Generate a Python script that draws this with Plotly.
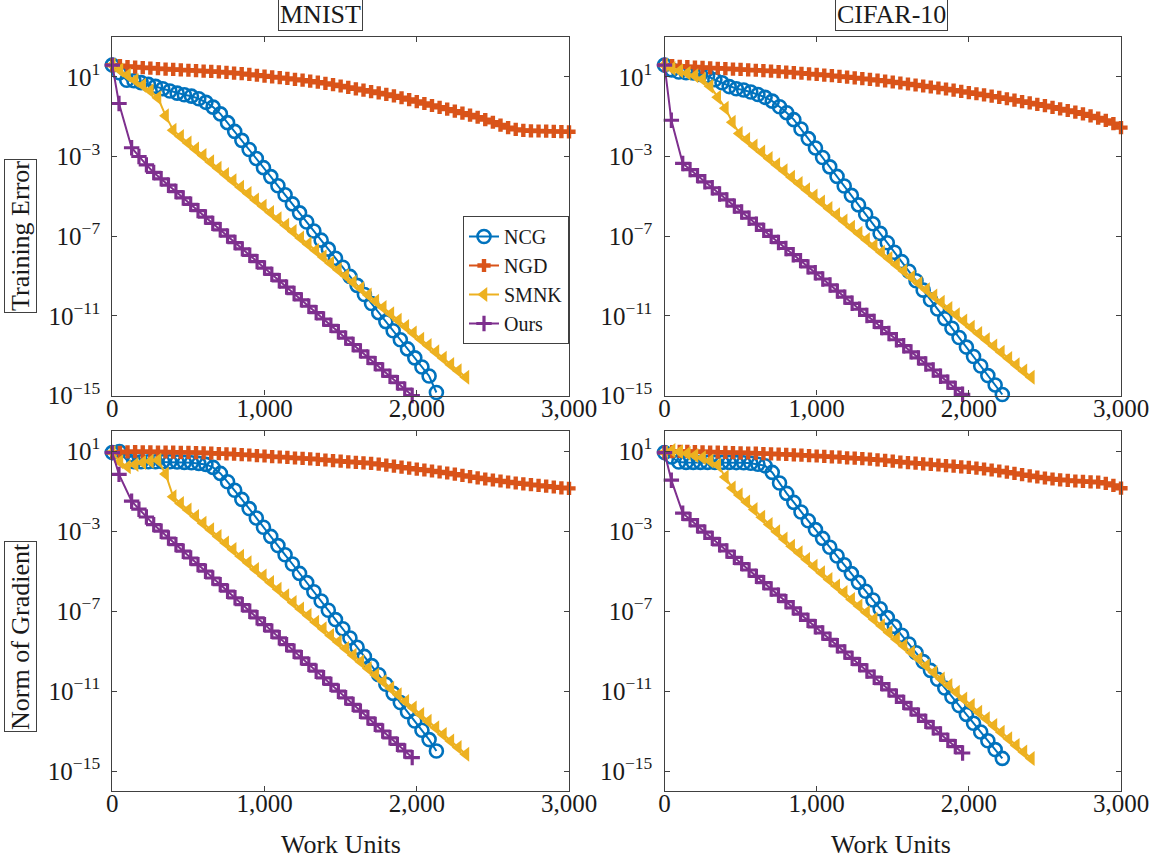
import plotly.graph_objects as go

# ---------------- data (exponents of 10) ----------------
NGD_X = [0, 50, 100, 150, 200, 250, 300, 350, 400, 450, 500, 550, 600, 650, 700, 750, 800, 850, 900, 950,
         1000, 1050, 1100, 1150, 1200, 1250, 1300, 1350, 1400, 1450, 1500, 1550, 1600, 1650, 1700, 1750,
         1800, 1850, 1900, 1950, 2000, 2050, 2100, 2150, 2200, 2250, 2300, 2350, 2400, 2450, 2500, 2550,
         2600, 2650, 2700, 2750, 2800, 2850, 2900, 2950, 3000]

# MNIST
MN_NCG_X = [0, 47, 95, 142, 189, 237, 284, 331, 378, 426, 473, 520, 568, 615, 662, 710, 757, 804, 851, 899,
            946, 993, 1041, 1088, 1135, 1183, 1230, 1277, 1324, 1372, 1419, 1466, 1514, 1561, 1608, 1656,
            1703, 1750, 1797, 1845, 1892, 1939, 1987, 2034, 2081, 2129]
MN_NCG_TRAIN = [1.59, 1.2, 0.83, 0.80, 0.71, 0.62, 0.52, 0.40, 0.29, 0.18, 0.10, 0.03, -0.10, -0.28, -0.52,
                -0.86, -1.30, -1.74, -2.19, -2.65, -3.10, -3.56, -4.01, -4.47, -4.92, -5.38, -5.83, -6.29,
                -6.74, -7.20, -7.65, -8.11, -8.56, -9.02, -9.47, -9.93, -10.38, -10.84, -11.29, -11.75,
                -12.20, -12.66, -13.11, -13.57, -14.02, -14.85]
MN_NCG_GRAD = [0.92, 0.97, 0.55, 0.46, 0.46, 0.46, 0.46, 0.46, 0.46, 0.45, 0.43, 0.41, 0.38, 0.33, 0.18,
               -0.12, -0.54, -0.96, -1.42, -1.88, -2.35, -2.81, -3.27, -3.73, -4.19, -4.65, -5.12, -5.58,
               -6.04, -6.50, -6.96, -7.43, -7.89, -8.35, -8.81, -9.27, -9.73, -10.19, -10.66, -11.12,
               -11.58, -12.04, -12.50, -12.96, -13.43, -14.0]

MN_NGD_TRAIN = [1.59, 1.56, 1.52, 1.49, 1.46, 1.44, 1.41, 1.39, 1.37, 1.35, 1.33, 1.31, 1.29, 1.27, 1.25,
                1.22, 1.19, 1.16, 1.12, 1.08, 1.04, 1.0, 0.96, 0.92, 0.87, 0.83, 0.78, 0.73, 0.67, 0.61,
                0.54, 0.47, 0.40, 0.33, 0.26, 0.19, 0.12, 0.04, -0.05, -0.14, -0.24, -0.34, -0.44, -0.53,
                -0.62, -0.72, -0.82, -0.92, -1.03, -1.15, -1.28, -1.42, -1.55, -1.64, -1.69, -1.71, -1.72,
                -1.73, -1.74, -1.75, -1.76]
MN_NGD_GRAD = [0.92, 0.93, 0.96, 0.97, 0.96, 0.96, 0.95, 0.95, 0.94, 0.93, 0.93, 0.92, 0.91, 0.89, 0.87,
               0.86, 0.84, 0.82, 0.80, 0.77, 0.75, 0.72, 0.70, 0.68, 0.65, 0.63, 0.61, 0.58, 0.55, 0.52,
               0.49, 0.46, 0.43, 0.41, 0.38, 0.34, 0.29, 0.24, 0.19, 0.14, 0.09, 0.05, 0.0, -0.05, -0.10,
               -0.16, -0.22, -0.28, -0.34, -0.40, -0.45, -0.50, -0.55, -0.60, -0.64, -0.68, -0.72, -0.76,
               -0.80, -0.84, -0.87]

MN_SMNK_X = [0, 50, 100, 150, 200, 250, 300, 350, 400, 449, 499, 548, 597, 647, 696, 745, 794, 844, 893,
             942, 992, 1041, 1090, 1140, 1189, 1238, 1287, 1337, 1386, 1435, 1485, 1534, 1583, 1633, 1682,
             1731, 1780, 1830, 1879, 1928, 1978, 2027, 2076, 2126, 2175, 2224, 2273, 2323]
MN_SMNK_TRAIN = [1.59, 1.34, 1.08, 0.83, 0.58, 0.30, -0.05, -0.95, -1.68, -2.00, -2.32, -2.63, -2.95,
                 -3.27, -3.59, -3.91, -4.22, -4.54, -4.86, -5.18, -5.50, -5.81, -6.13, -6.45, -6.77, -7.09,
                 -7.40, -7.72, -8.04, -8.36, -8.68, -8.99, -9.31, -9.63, -9.95, -10.27, -10.58, -10.90,
                 -11.22, -11.54, -11.86, -12.17, -12.49, -12.81, -13.13, -13.45, -13.76, -14.08]
MN_SMNK_GRAD = [0.92, 0.46, 0.21, 0.33, 0.43, 0.49, 0.54, -0.15, -1.29, -1.62, -1.95, -2.28, -2.61, -2.94,
                -3.27, -3.60, -3.93, -4.26, -4.59, -4.92, -5.25, -5.58, -5.91, -6.24, -6.57, -6.90, -7.23,
                -7.56, -7.89, -8.22, -8.55, -8.88, -9.21, -9.54, -9.87, -10.20, -10.53, -10.86, -11.19,
                -11.52, -11.85, -12.18, -12.51, -12.84, -13.17, -13.50, -13.83, -14.16]

MN_OURS_X = [0, 44, 127, 175, 224, 272, 321, 369, 418, 466, 515, 563, 612, 660, 709, 757, 806, 854, 903,
             951, 1000, 1048, 1097, 1145, 1194, 1242, 1291, 1339, 1388, 1436, 1485, 1533, 1582, 1630, 1679,
             1727, 1776, 1824, 1873, 1921, 1970]
MN_OURS_TRAIN = [1.59, -0.34, -2.56, -3.0, -3.42, -3.80, -4.12, -4.44, -4.76, -5.08, -5.40, -5.72, -6.04,
                 -6.36, -6.68, -7.00, -7.32, -7.64, -7.96, -8.28, -8.60, -8.92, -9.24, -9.56, -9.88, -10.20,
                 -10.52, -10.84, -11.16, -11.48, -11.80, -12.12, -12.44, -12.76, -13.08, -13.40, -13.72,
                 -14.04, -14.36, -14.68, -15.0]
MN_OURS_GRAD = [0.92, -0.17, -1.51, -1.91, -2.30, -2.68, -3.01, -3.35, -3.68, -4.01, -4.35, -4.68, -5.01,
                -5.35, -5.68, -6.01, -6.34, -6.68, -7.01, -7.34, -7.68, -8.01, -8.34, -8.68, -9.01, -9.34,
                -9.67, -10.01, -10.34, -10.67, -11.01, -11.34, -11.67, -12.01, -12.34, -12.67, -13.0,
                -13.34, -13.67, -14.0, -14.33]

# CIFAR-10
CF_NCG_X = [0, 47, 94, 142, 189, 236, 283, 331, 378, 425, 472, 520, 567, 614, 661, 708, 756, 803, 850, 897,
            945, 992, 1039, 1086, 1134, 1181, 1228, 1275, 1322, 1370, 1417, 1464, 1511, 1559, 1606, 1653,
            1700, 1748, 1795, 1842, 1889, 1936, 1984, 2031, 2078, 2125, 2173, 2220]
CF_NCG_TRAIN = [1.59, 1.35, 1.24, 1.21, 1.19, 1.12, 1.04, 0.85, 0.70, 0.51, 0.40, 0.34, 0.24, 0.11, -0.03,
                -0.22, -0.50, -0.80, -1.15, -1.62, -2.10, -2.57, -3.05, -3.52, -4.00, -4.48, -4.95, -5.43,
                -5.90, -6.38, -6.86, -7.33, -7.81, -8.28, -8.76, -9.24, -9.71, -10.19, -10.66, -11.14,
                -11.62, -12.09, -12.57, -13.04, -13.52, -14.00, -14.47, -14.95]
CF_NCG_GRAD = [0.92, 0.70, 0.45, 0.43, 0.43, 0.43, 0.43, 0.43, 0.43, 0.43, 0.42, 0.41, 0.39, 0.34, 0.26,
               -0.07, -0.60, -1.12, -1.57, -2.05, -2.49, -2.93, -3.37, -3.81, -4.25, -4.69, -5.13, -5.57,
               -6.01, -6.45, -6.89, -7.33, -7.77, -8.21, -8.65, -9.09, -9.53, -9.97, -10.41, -10.85,
               -11.29, -11.73, -12.17, -12.61, -13.05, -13.49, -13.93, -14.37]

CF_NGD_TRAIN = [1.59, 1.56, 1.53, 1.51, 1.49, 1.47, 1.45, 1.43, 1.41, 1.39, 1.37, 1.35, 1.33, 1.31, 1.29,
                1.26, 1.24, 1.21, 1.18, 1.15, 1.12, 1.09, 1.06, 1.02, 0.99, 0.95, 0.91, 0.87, 0.83, 0.79,
                0.74, 0.69, 0.64, 0.59, 0.54, 0.49, 0.44, 0.39, 0.33, 0.27, 0.21, 0.15, 0.09, 0.03, -0.03,
                -0.10, -0.17, -0.24, -0.31, -0.38, -0.45, -0.53, -0.61, -0.69, -0.77, -0.86, -0.96, -1.07,
                -1.19, -1.35, -1.55]
CF_NGD_GRAD = [0.92, 0.97, 0.98, 0.98, 0.97, 0.96, 0.95, 0.94, 0.93, 0.92, 0.91, 0.90, 0.89, 0.87, 0.86,
               0.84, 0.83, 0.81, 0.79, 0.77, 0.75, 0.73, 0.71, 0.69, 0.66, 0.64, 0.62, 0.59, 0.56, 0.53,
               0.49, 0.45, 0.42, 0.39, 0.36, 0.33, 0.30, 0.27, 0.24, 0.21, 0.18, 0.14, 0.10, 0.05, 0.0,
               -0.06, -0.12, -0.18, -0.24, -0.30, -0.35, -0.40, -0.44, -0.47, -0.50, -0.52, -0.54, -0.56,
               -0.62, -0.72, -0.86]

CF_SMNK_X = [0, 50, 100, 150, 200, 250, 300, 350, 400, 446, 492, 541, 590, 640, 689, 738, 787, 836, 886,
             935, 984, 1033, 1082, 1132, 1181, 1230, 1279, 1328, 1378, 1427, 1476, 1525, 1574, 1624, 1673,
             1722, 1771, 1820, 1870, 1919, 1968, 2017, 2066, 2116, 2165, 2214, 2263, 2312, 2362, 2411]
CF_SMNK_TRAIN = [1.59, 1.42, 1.30, 1.18, 1.05, 0.88, 0.53, -0.02, -0.58, -1.28, -1.84, -2.15, -2.47,
                 -2.78, -3.10, -3.41, -3.72, -4.04, -4.35, -4.67, -4.98, -5.29, -5.61, -5.92, -6.24, -6.55,
                 -6.86, -7.18, -7.49, -7.81, -8.12, -8.43, -8.75, -9.06, -9.38, -9.69, -10.00, -10.32,
                 -10.63, -10.95, -11.26, -11.57, -11.89, -12.20, -12.52, -12.83, -13.14, -13.46, -13.77,
                 -14.08]
CF_SMNK_GRAD = [0.92, 1.02, 0.96, 0.87, 0.78, 0.66, 0.50, 0.30, -0.30, -0.85, -1.20, -1.55, -1.93, -2.31,
                -2.68, -3.04, -3.40, -3.76, -4.09, -4.42, -4.76, -5.09, -5.42, -5.75, -6.08, -6.42, -6.75,
                -7.08, -7.41, -7.74, -8.08, -8.41, -8.74, -9.07, -9.40, -9.74, -10.07, -10.40, -10.73,
                -11.06, -11.40, -11.73, -12.06, -12.39, -12.72, -13.06, -13.39, -13.72, -14.05, -14.38]

CF_OURS_X = [0, 45, 120, 168, 217, 265, 314, 362, 410, 459, 507, 556, 604, 652, 701, 749, 798, 846, 894,
             943, 991, 1040, 1088, 1136, 1185, 1233, 1282, 1330, 1378, 1427, 1475, 1524, 1572, 1620, 1669,
             1717, 1766, 1814, 1862, 1911, 1959]
CF_OURS_TRAIN = [1.59, -1.18, -3.35, -3.66, -3.96, -4.27, -4.57, -4.88, -5.18, -5.49, -5.79, -6.10, -6.40,
                 -6.71, -7.01, -7.32, -7.62, -7.93, -8.23, -8.54, -8.84, -9.15, -9.45, -9.76, -10.06,
                 -10.37, -10.67, -10.98, -11.28, -11.59, -11.89, -12.20, -12.50, -12.81, -13.11, -13.42,
                 -13.72, -14.03, -14.33, -14.64, -14.94]
CF_OURS_GRAD = [0.92, -0.46, -2.11, -2.43, -2.74, -3.06, -3.37, -3.69, -4.00, -4.32, -4.63, -4.95, -5.27,
                -5.58, -5.90, -6.21, -6.53, -6.84, -7.16, -7.47, -7.79, -8.10, -8.42, -8.74, -9.05, -9.37,
                -9.68, -10.00, -10.31, -10.63, -10.94, -11.26, -11.57, -11.89, -12.21, -12.52, -12.84,
                -13.15, -13.47, -13.78, -14.10]

METHODS = ["NCG", "NGD", "SMNK", "Ours"]
X_TICKS = [0, 1000, 2000, 3000]
X_TICK_TEXT = ["0", "1,000", "2,000", "3,000"]
Y_TICK_EXP = [1, -3, -7, -11, -15]
COLUMN_TITLES = ["MNIST", "CIFAR-10"]
ROW_TITLES = ["Training Error", "Norm of Gradient"]
X_TITLE = "Work Units"

# ---------------- styling ----------------
FONT = "Liberation Serif, Times New Roman, serif"
COLORS = {"NCG": "#0072BD", "NGD": "#D95319", "SMNK": "#EDB120", "Ours": "#7E2F8E"}
MARKERS = {
    "NCG": dict(symbol="circle-open", size=13, line=dict(width=2.6, color=COLORS["NCG"])),
    "NGD": dict(symbol="cross", size=11, color=COLORS["NGD"], line=dict(width=0)),
    "SMNK": dict(symbol="triangle-left", size=13, color=COLORS["SMNK"], line=dict(width=0)),
    "Ours": dict(symbol="cross-thin", size=11, line=dict(width=3.2, color=COLORS["Ours"])),
}
AXC = "#404040"
TXT = "#1a1a1a"
W, H = 1160, 864
XDOM = [(112.3 / W, 569.0 / W), (664.5 / W, 1121.0 / W)]
YDOM = [(1 - 395.5 / H, 1 - 37.0 / H), (1 - 791.0 / H, 1 - 431.0 / H)]
YRANGE = [(-15, 3.0), (-16, 2.0)]

panels = {
    (0, 0): {"NCG": (MN_NCG_X, MN_NCG_TRAIN), "NGD": (NGD_X, MN_NGD_TRAIN),
             "SMNK": (MN_SMNK_X, MN_SMNK_TRAIN), "Ours": (MN_OURS_X, MN_OURS_TRAIN)},
    (0, 1): {"NCG": (CF_NCG_X, CF_NCG_TRAIN), "NGD": (NGD_X, CF_NGD_TRAIN),
             "SMNK": (CF_SMNK_X, CF_SMNK_TRAIN), "Ours": (CF_OURS_X, CF_OURS_TRAIN)},
    (1, 0): {"NCG": (MN_NCG_X, MN_NCG_GRAD), "NGD": (NGD_X, MN_NGD_GRAD),
             "SMNK": (MN_SMNK_X, MN_SMNK_GRAD), "Ours": (MN_OURS_X, MN_OURS_GRAD)},
    (1, 1): {"NCG": (CF_NCG_X, CF_NCG_GRAD), "NGD": (NGD_X, CF_NGD_GRAD),
             "SMNK": (CF_SMNK_X, CF_SMNK_GRAD), "Ours": (CF_OURS_X, CF_OURS_GRAD)},
}

fig = go.Figure()
layout = dict(width=W, height=H, margin=dict(l=0, r=0, t=0, b=0, pad=0),
              paper_bgcolor="white", plot_bgcolor="white", template="none",
              font=dict(family=FONT, size=24, color=TXT))

for (r, c), series in panels.items():
    idx = r * 2 + c + 1
    xa = "x" if idx == 1 else f"x{idx}"
    ya = "y" if idx == 1 else f"y{idx}"
    for m in METHODS:
        xs, es = series[m]
        n = min(len(xs), len(es))
        fig.add_trace(go.Scatter(
            x=xs[:n], y=[10 ** e for e in es[:n]], mode="lines+markers", name=m,
            line=dict(color=COLORS[m], width=2), marker=MARKERS[m],
            xaxis=xa, yaxis=ya, showlegend=(idx == 1), cliponaxis=False, legendgroup=m))
    axis_common = dict(showline=True, linecolor=AXC, linewidth=1.3, mirror="ticks", ticks="inside",
                       ticklen=5, tickwidth=1, tickcolor=AXC, showgrid=False, zeroline=False,
                       automargin=False, tickfont=dict(family=FONT, size=25, color=TXT))
    layout["xaxis" if idx == 1 else f"xaxis{idx}"] = dict(
        domain=XDOM[c], range=[0, 3000], tickvals=X_TICKS, ticktext=X_TICK_TEXT,
        anchor=ya, ticklabelstandoff=-10, **axis_common)
    ylo, yhi = YRANGE[r]
    layout["yaxis" if idx == 1 else f"yaxis{idx}"] = dict(
        domain=YDOM[r], type="log", range=[ylo, yhi],
        tickvals=[10 ** e for e in Y_TICK_EXP],
        ticktext=[f"10<sup>{str(e).replace('-', '−')}</sup>" for e in Y_TICK_EXP],
        anchor=xa, ticklabelstandoff=6, **axis_common)

ann = []
for c, t in enumerate(COLUMN_TITLES):
    ann.append(dict(text=t, x=[320 / W, 891 / W][c], y=1 - 14 / H, xref="paper", yref="paper",
                    showarrow=False, xanchor="center", yanchor="middle",
                    bordercolor=AXC, borderwidth=1, borderpad=1,
                    font=dict(family=FONT, size=26, color=TXT)))
    ann.append(dict(text=X_TITLE, x=[341 / W, 891 / W][c], y=1 - 844 / H, xref="paper", yref="paper",
                    showarrow=False, xanchor="center", yanchor="middle",
                    font=dict(family=FONT, size=26, color=TXT)))
for r, t in enumerate(ROW_TITLES):
    ann.append(dict(text=t, x=20 / W, y=1 - [236, 637][r] / H, xref="paper", yref="paper",
                    showarrow=False, xanchor="center", yanchor="middle", textangle=-90,
                    bordercolor=AXC, borderwidth=1, borderpad=1,
                    font=dict(family=FONT, size=26, color=TXT)))
layout["annotations"] = ann
layout["legend"] = dict(x=569 / W, y=1 - 216 / H, xanchor="right", yanchor="top",
                        bordercolor=AXC, borderwidth=1, bgcolor="white",
                        font=dict(family=FONT, size=20, color=TXT),
                        itemwidth=30, tracegroupgap=0)
fig.update_layout(**layout)
fig.write_html("out.html", config={"displayModeBar": False},
               post_script="document.body.style.margin='0px';")
